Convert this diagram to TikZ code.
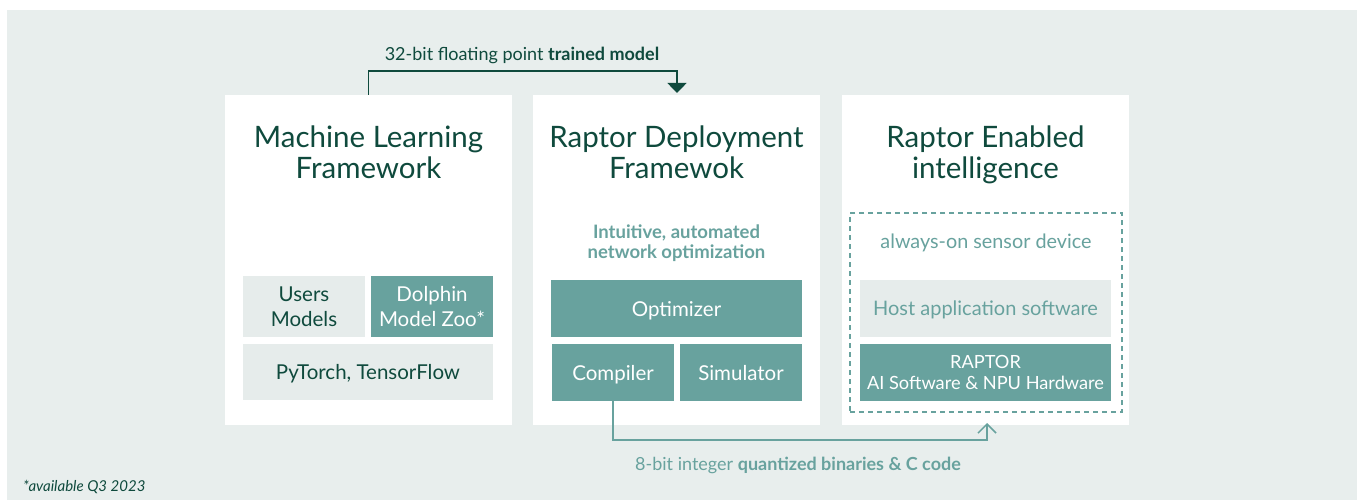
\documentclass[tikz,border=0pt]{standalone}
\usepackage{fontspec}
\setmainfont{Lato}
\usetikzlibrary{arrows.meta}
\definecolor{dkgreen}{HTML}{0F4A3D}
\definecolor{teal}{HTML}{68A29E}
\definecolor{lgray}{HTML}{E6ECEB}
\definecolor{bgc}{HTML}{E8EEED}
\tikzset{
  panel/.style={fill=white, draw=none, minimum width=287pt, minimum height=330pt, inner sep=0pt},
  title/.style={text=dkgreen, align=center, font=\fontsize{29.5}{31}\selectfont, inner sep=0pt},
  graybox/.style={fill=lgray, text=dkgreen, align=center, inner sep=0pt, font=\fontsize{20.5}{25}\selectfont},
  tealbox/.style={fill=teal, text=white, align=center, inner sep=0pt, font=\fontsize{20.5}{25}\selectfont},
  oneline/.style={text depth=0pt},
  lbl/.style={inner sep=0pt, font=\fontsize{18}{20}\selectfont},
}
\begin{document}
\begin{tikzpicture}[x=1pt,y=-1pt]
\useasboundingbox (0,0) rectangle (1357,500);
\fill[bgc] (7,10) rectangle (1357,500);
% panels
\node[panel] (p1) at (368.5,260) {};
\node[panel] (p2) at (676.5,260) {};
\node[panel] (p3) at (985.5,260) {};
% titles
\node[title] (t1) at (368.5,152) {Machine Learning\\Framework};
\node[title] (t2) at (676.5,152) {Raptor Deployment\\Framewok};
\node[title] (t3) at (985.5,155) {Raptor Enabled\\intelligence};
% panel 1
\node[graybox, minimum width=122pt, minimum height=61pt] (users) at (304,306.5) {Users\\Models};
\node[tealbox, minimum width=122pt, minimum height=61pt] (zoo) at (432,306.5) {Dolphin\\Model Zoo*};
\node[graybox, oneline, minimum width=250pt, minimum height=56pt] (pt) at (368,372) {PyTorch, TensorFlow};
% panel 2
\node[lbl, text=teal, align=center, font=\bfseries\fontsize{18.5}{20}\selectfont] (intu) at (676.5,243) {Intuitive, automated\\network optimization};
\node[tealbox, oneline, minimum width=251pt, minimum height=57pt] (opt) at (676.5,308.5) {Optimizer};
\node[tealbox, oneline, minimum width=122pt, minimum height=57pt] (comp) at (613,372.5) {Compiler};
\node[tealbox, oneline, minimum width=122pt, minimum height=57pt] (sim) at (741,372.5) {Simulator};
% panel 3
\node[draw=teal, dashed, dash pattern=on 5pt off 4pt, line width=1.2pt, minimum width=272pt, minimum height=199pt, inner sep=0pt] (dev) at (986,312.5) {};
\node[lbl, text=teal, font=\fontsize{19.8}{22}\selectfont] (aos) at (986,243) {always-on sensor device};
\node[graybox, oneline, text=teal, minimum width=251pt, minimum height=57pt, font=\fontsize{20}{24}\selectfont] (host) at (985.5,308.5) {Host application software};
\node[tealbox, minimum width=251pt, minimum height=57pt, font=\fontsize{18.2}{21}\selectfont] (rap) at (985.5,372.5) {RAPTOR\\AI Software \& NPU Hardware};
% top arrow
\node[lbl, text=dkgreen] (toplbl) at (522,55) {32-bit floating point \textbf{trained model}};
\coordinate (tend) at (677,93);
\draw[dkgreen, line width=1.5pt, -{Triangle[width=19pt,length=10pt]}] (p1.north) -- (368.5,71) -| (tend);
% bottom arrow
\node[lbl, text=teal] (botlbl) at (798,465) {8-bit integer \textbf{quantized binaries \& C code}};
\coordinate (bend) at (987,423);
\draw[teal, line width=1.5pt, -{Straight Barb[width=18pt,length=9pt]}] (comp.south) -- (613,440) -| (bend);
% footnote
\node[lbl, text=dkgreen, anchor=west, font=\itshape\fontsize{15}{16}\selectfont] (fn) at (23,487) {*available Q3 2023};
\end{tikzpicture}
\end{document}
